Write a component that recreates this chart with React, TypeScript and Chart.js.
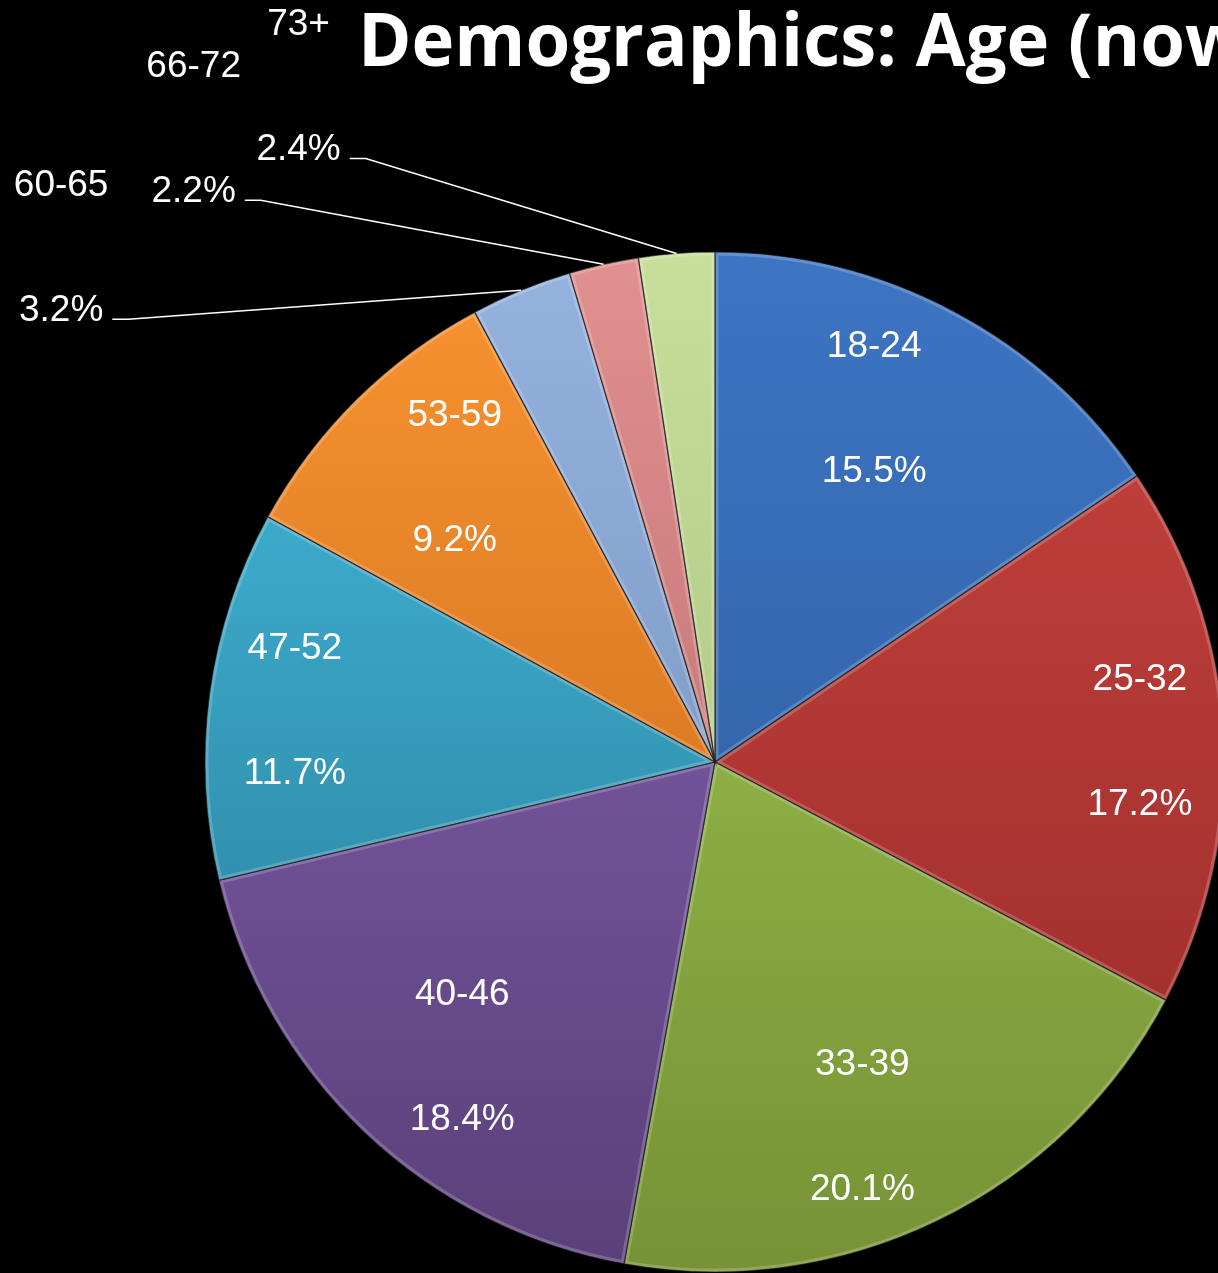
import React, { useEffect, useRef } from "react";
import { Chart, registerables } from "chart.js";

Chart.register(...registerables);

const categories = ["18-24", "25-32", "33-39", "40-46", "47-52", "53-59", "60-65", "66-72", "73+"];
const percentages = [15.5, 17.2, 20.1, 18.4, 11.7, 9.2, 3.2, 2.2, 2.4];
const titleText = "Demographics: Age (now)";

// styles (gradient top / bottom per slice)
const topColors = ["#3d75c4", "#c9443f", "#a3cb52", "#8a65b8", "#45bde0", "#f99430", "#96b3e0", "#e29090", "#c8df9c"];
const bottomColors = ["#2b5794", "#962a28", "#769236", "#5a407a", "#25758f", "#c0621a", "#6d8ab3", "#ad6363", "#a0b872"];

// outside label placement relative to the slice's outer point (style only)
const outsideOffsets: Record<number, [number, number]> = {
  6: [-460, 31],
  7: [-410, -62],
  8: [-378, -93],
};

const W = 1240;
const H = 1290;

const labelFont = "37px 'Liberation Sans', Arial, sans-serif";
const LINE_GAP = 125;

const labelPlugin = {
  id: "customLabels",
  afterDatasetsDraw(chart: any) {
    const ctx = chart.ctx;
    const meta = chart.getDatasetMeta(0);
    // bevel + borders
    meta.data.forEach((arc: any) => {
      const p = arc.getProps(["x", "y", "startAngle", "endAngle", "outerRadius"], true);
      ctx.save();
      ctx.beginPath();
      ctx.moveTo(p.x, p.y);
      ctx.arc(p.x, p.y, p.outerRadius, p.startAngle, p.endAngle);
      ctx.closePath();
      ctx.clip();
      ctx.strokeStyle = "rgba(255,255,255,0.2)";
      ctx.lineWidth = 7;
      ctx.stroke();
      ctx.restore();
      ctx.save();
      ctx.beginPath();
      ctx.moveTo(p.x, p.y);
      ctx.arc(p.x, p.y, p.outerRadius, p.startAngle, p.endAngle);
      ctx.closePath();
      ctx.strokeStyle = "rgba(20,20,20,0.6)";
      ctx.lineWidth = 1.2;
      ctx.stroke();
      ctx.restore();
    });

    ctx.save();
    ctx.font = labelFont;
    ctx.fillStyle = "#ffffff";
    ctx.textAlign = "center";
    ctx.textBaseline = "alphabetic";
    meta.data.forEach((arc: any, i: number) => {
      const p = arc.getProps(["x", "y", "startAngle", "endAngle", "outerRadius"], true);
      const mid = (p.startAngle + p.endAngle) / 2;
      const name = categories[i];
      const pct = percentages[i].toFixed(1) + "%";
      const off = outsideOffsets[i];
      if (off) {
        const ox = p.x + p.outerRadius * Math.cos(mid);
        const oy = p.y + p.outerRadius * Math.sin(mid);
        const cx = ox + off[0];
        const base = oy + off[1];
        ctx.fillText(pct, cx, base);
        ctx.fillText(name, cx, base - LINE_GAP);
        const w = ctx.measureText(pct).width;
        const lx = cx + w / 2 + 9;
        const ly = base - 2;
        ctx.save();
        ctx.strokeStyle = "#ffffff";
        ctx.lineWidth = 1.5;
        ctx.beginPath();
        ctx.moveTo(lx, ly);
        ctx.lineTo(lx + 16, ly);
        ctx.lineTo(ox, oy);
        ctx.stroke();
        ctx.restore();
      } else {
        const R = p.outerRadius;
        const s = Math.sin(mid);
        const c = Math.cos(mid);
        const rx = R * (0.835 - 0.216 * s * s);
        const ry = R * 0.79;
        const cx = p.x + rx * c;
        const cy = p.y + ry * s;
        ctx.fillText(name, cx, cy - LINE_GAP / 2 + 13);
        ctx.fillText(pct, cx, cy + LINE_GAP / 2 + 13);
      }
    });
    ctx.restore();

    // title
    ctx.save();
    ctx.fillStyle = "#ffffff";
    ctx.font = "bold 70px 'Open Sans', Lato, sans-serif";
    ctx.textAlign = "left";
    ctx.textBaseline = "alphabetic";
    const partial = "Demographics: Age (no";
    const wPart = ctx.measureText(partial).width;
    const sx = (1187 - 360) / wPart;
    ctx.translate(358, 66);
    ctx.scale(sx, 1.04);
    ctx.fillText(titleText, 0, 0);
    ctx.restore();
  },
};

const gradCache: Record<string, any> = {};

export default function App() {
  const canvasRef = useRef<HTMLCanvasElement | null>(null);

  useEffect(() => {
    document.body.style.margin = "0";
    document.body.style.background = "#000";
    document.documentElement.style.background = "#000";
    const canvas = canvasRef.current;
    if (!canvas) return;
    const chart = new Chart(canvas, {
      type: "pie",
      data: {
        labels: categories,
        datasets: [
          {
            data: percentages,
            backgroundColor: (c: any) => {
              const i = c.dataIndex;
              const area = c.chart.chartArea;
              if (!area) return topColors[i];
              const key = i + ":" + area.top + ":" + area.bottom;
              if (!gradCache[key]) {
                const g = c.chart.ctx.createLinearGradient(0, area.top, 0, area.bottom);
                g.addColorStop(0, topColors[i]);
                g.addColorStop(1, bottomColors[i]);
                gradCache[key] = g;
              }
              return gradCache[key];
            },
            borderWidth: 0,
          },
        ],
      },
      options: {
        responsive: false,
        animation: false,
        devicePixelRatio: 1,
        layout: { padding: { left: 205, top: 252, right: 15, bottom: 18 } },
        plugins: {
          legend: { display: false },
          tooltip: { enabled: false },
          title: { display: false },
        },
      },
      plugins: [labelPlugin],
    });
    return () => chart.destroy();
  }, []);

  return (
    <div style={{ width: 1218, height: 1273, overflow: "hidden", position: "relative", background: "#000" }}>
      <canvas ref={canvasRef} width={W} height={H} style={{ width: W, height: H, display: "block" }} />
    </div>
  );
}
